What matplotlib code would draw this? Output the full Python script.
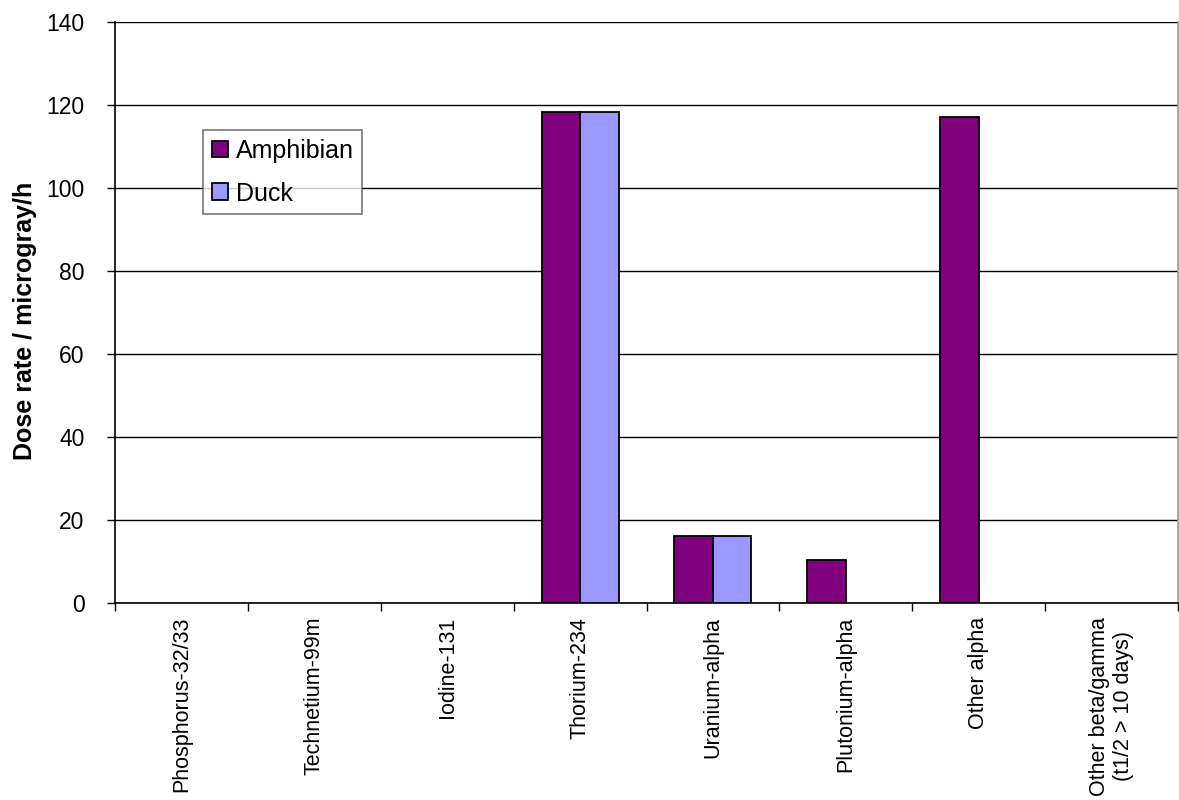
"""Dose rate per radionuclide group, amphibian vs duck."""

import matplotlib
matplotlib.use('Agg')
import matplotlib.pyplot as plt
import numpy as np

categories = ['Phosphorus-32/33', 'Technetium-99m', 'Iodine-131',
              'Thorium-234', 'Uranium-alpha', 'Plutonium-alpha',
              'Other alpha', 'Other beta/gamma\n(t1/2 > 10 days)']
amphibian = [0, 0, 0, 118.3, 16.1, 10.4, 117.0, 0]
duck = [0, 0, 0, 118.3, 16.1, 0, 0, 0]
y_ticks = [0, 20, 40, 60, 80, 100, 120, 140]

plt.rcParams['font.family'] = ['Liberation Sans', 'DejaVu Sans']
plt.rcParams['font.size'] = 15

fig = plt.figure(figsize=(11.79, 8), dpi=100)
ax = fig.add_axes([115 / 1179, 1 - 603 / 800, (1178 - 115) / 1179,
                   (603 - 22) / 800])

x = np.arange(len(categories))
w = 0.29
# zero values are not drawn (no outline sitting on the axis)
amph = np.array(amphibian, dtype=float)
dk = np.array(duck, dtype=float)
ax.bar(x - w / 2, np.where(amph > 0, amph, np.nan), w, color='#800080',
       edgecolor='black', linewidth=1.3, label='Amphibian', zorder=3)
ax.bar(x + w / 2, np.where(dk > 0, dk, np.nan), w, color='#9999FF',
       edgecolor='black', linewidth=1.3, label='Duck', zorder=3)

ax.set_xlim(-0.5, len(categories) - 0.5)
ax.set_ylim(0, 140)
ax.set_yticks(y_ticks)
ax.yaxis.grid(True, color='black', linewidth=1.0, zorder=0)
ax.set_axisbelow(True)

# category ticks sit on the boundaries, labels in the middle
ax.set_xticks(np.arange(len(categories) + 1) - 0.5)
ax.set_xticklabels([])
ax.set_xticks(x, minor=True)
ax.set_xticklabels(categories, minor=True, rotation=90, va='top',
                   ha='center', multialignment='center', fontsize=15.5)
ax.tick_params(axis='x', which='minor', length=0, pad=10)
ax.tick_params(axis='x', which='major', length=6, width=1, direction='out')
ax.tick_params(axis='y', length=6, width=1, direction='out', pad=16,
               labelsize=16.5)

for side in ['left', 'bottom']:
    ax.spines[side].set_color('black')
    ax.spines[side].set_linewidth(1.2)
ax.spines['top'].set_visible(False)
ax.spines['right'].set_color('#999999')
ax.spines['right'].set_linewidth(1.2)

ax.set_ylabel('Dose rate / microgray/h', fontweight='bold', fontsize=18)
ax.yaxis.set_label_coords(-78 / 1063, 0.485)

leg = ax.legend(loc='upper left', bbox_to_anchor=((203 - 115) / 1063,
                                                  1 - (130 - 22) / 581),
                frameon=True, fancybox=False, edgecolor='#555555',
                fontsize=18, handlelength=0.65, handleheight=0.65,
                handletextpad=0.3, borderpad=0.35, labelspacing=0.75,
                borderaxespad=0)
leg.get_frame().set_linewidth(1.2)

fig.savefig('out.png', dpi=100)
